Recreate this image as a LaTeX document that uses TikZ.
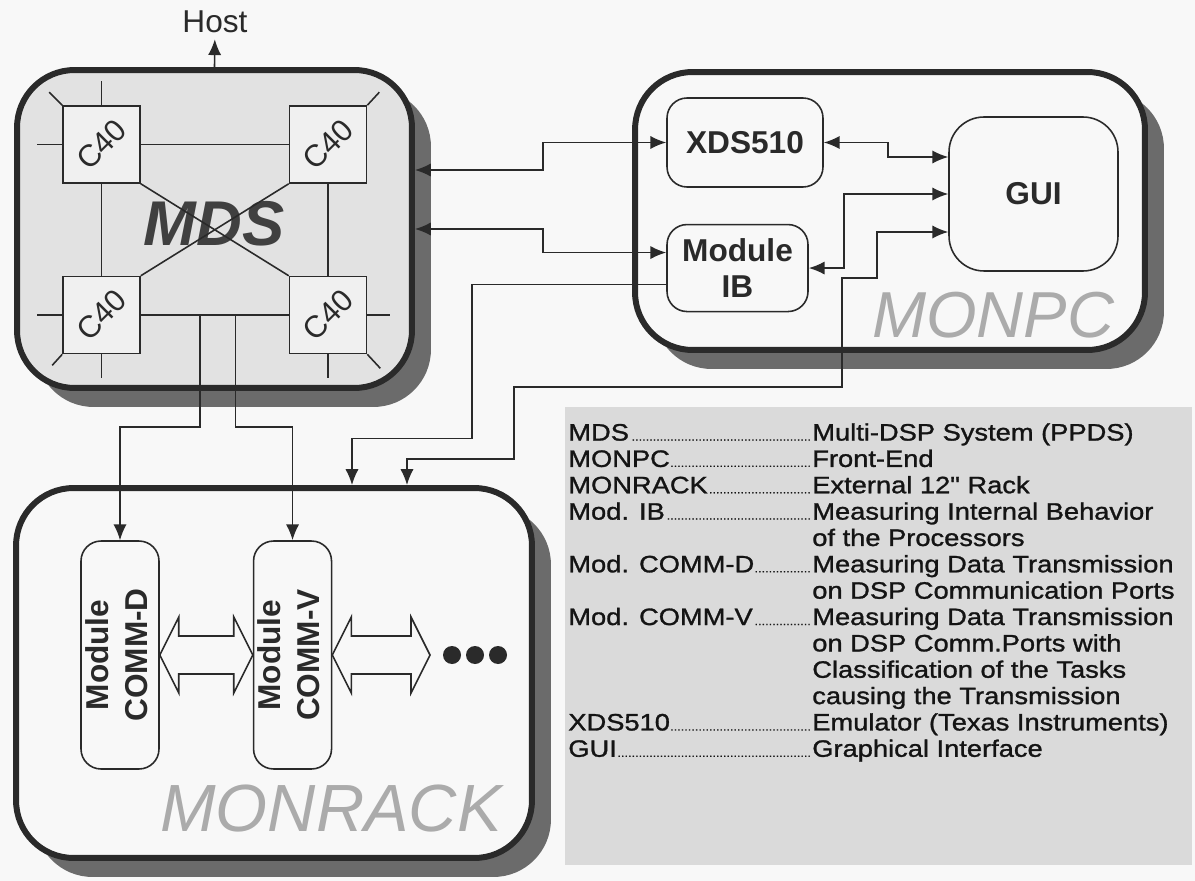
\documentclass[tikz,border=0pt]{standalone}
\usepackage{fontspec}
\setmainfont{Liberation Sans}
\newfontfamily\legendfont[FakeStretch=1.15,FakeBold=1.2]{Liberation Sans}
\usepackage{tikz}
\usetikzlibrary{positioning,calc,shadows,arrows.meta}

\definecolor{pagebg}{HTML}{F8F8F8}
\definecolor{mdsfill}{HTML}{E2E2E2}
\definecolor{cpufill}{HTML}{F0F0F0}
\definecolor{legfill}{HTML}{DADADA}
\definecolor{shadowc}{HTML}{6B6B6B}
\definecolor{ink}{HTML}{2A2A2A}
\definecolor{ghost}{HTML}{ABABAB}

\newlength{\legw}
\setlength{\legw}{4.88cm}
\newcommand{\legrow}[2]{\hbox to \legw{#1\leaders\hbox to 2pt{\hss{\fontsize{6}{6}\selectfont.}\hss}\hfill}#2}
\newcommand{\legmore}[1]{\hbox to \legw{}#1}
\newcommand{\fatlink}[2]{%
  \draw[fatarrow] (#1) -- ($(#1)+(19,-38)$) -- ($(#1)+(19,-19)$) -- ($(#2)+(-19,-19)$)
    -- ($(#2)+(-19,-38)$) -- (#2) -- ($(#2)+(-19,38)$) -- ($(#2)+(-19,19)$)
    -- ($(#1)+(19,19)$) -- ($(#1)+(19,38)$) -- cycle;}

\begin{document}
\begin{tikzpicture}[
    x=0.02cm, y=-0.02cm,
    >={Latex[length=9pt,width=7.5pt]},
    link/.style={draw=ink, line width=0.9pt},
    bigbox/.style={draw=ink, line width=3.4pt, rounded corners=1.15cm, fill=pagebg,
      drop shadow={shadow xshift=0.38cm, shadow yshift=-0.38cm, fill=shadowc, opacity=1}},
    unit/.style={draw=ink, line width=0.9pt, rounded corners=0.4cm, fill=pagebg, text=ink,
      font=\fontsize{18}{21}\selectfont\bfseries, align=center, inner sep=0pt},
    cpu/.style={draw=ink, line width=0.9pt, fill=cpufill, minimum size=1.54cm, inner sep=0pt,
      text=ink, font=\fontsize{17.5}{20}\selectfont},
    ghostlabel/.style={text=ghost, font=\fontsize{37}{40}\selectfont\itshape, inner sep=0pt},
    fatarrow/.style={draw=ink, line width=0.9pt, fill=pagebg, line join=miter}
]
\useasboundingbox (0,0) rectangle (1195,881);
\fill[pagebg] (0,0) rectangle (1195,881);

% the three units
\node[bigbox, fill=mdsfill, minimum width=7.9cm, minimum height=6.36cm] (mds) at (214.5,229) {};
\node[bigbox, minimum width=10.2cm, minimum height=5.56cm] (monpc) at (890,211) {};
\node[bigbox, minimum width=10.32cm, minimum height=7.4cm] (monrack) at (274,673) {};
\node[fill=legfill, minimum width=12.54cm, minimum height=9.16cm, inner sep=0pt] (legbox) at (878.5,636) {};

\node[text=black!75, font=\fontsize{36}{40}\selectfont\bfseries\itshape, inner sep=0pt] (mdslabel) at (214,224) {MDS};
\node[ghostlabel] (monpclabel) at (993,315) {MONPC};
\node[ghostlabel, font=\fontsize{38}{40}\selectfont\itshape] (monracklabel) at (331,809) {MONRACK};
\node[text=ink, font=\fontsize{18}{21}\selectfont] (host) at (215,22) {Host};

% processors of the MDS
\node[cpu] (c40tl) at (101.5,144.5) {\rotatebox{45}{C40}};
\node[cpu, right=2.96cm of c40tl] (c40tr) {\rotatebox{45}{C40}};
\node[cpu, below=1.84cm of c40tl] (c40bl) {\rotatebox{45}{C40}};
\node[cpu, below=1.84cm of c40tr] (c40br) {\rotatebox{45}{C40}};

\draw[link] (c40tl) -- (c40tr);
\draw[link] (c40tl) -- (c40bl);
\draw[link] (c40tr) -- (c40br);
\draw[link] (c40bl) -- (c40br);
\draw[link] (c40tl.south east) -- (c40br.north west);
\draw[link] (c40tr.south west) -- (c40bl.north east);

\draw[link] (c40tl.north) -- ++(0,-24);
\draw[link] (c40tl.west) -- ++(-25,0);
\draw[link] (c40tl.north west) -- ++(-13,-13);
\draw[link] (c40tr.north east) -- ++(12,-13);
\draw[link] (c40bl.west) -- ++(-25,0);
\draw[link] (c40bl.south) -- ++(0,24);
\draw[link] (c40bl.south west) -- ++(-10,11);
\draw[link] (c40br.east) -- ++(23,0);
\draw[link] (c40br.south) -- ++(0,24);
\draw[link] (c40br.south east) -- ++(13,14);

\coordinate (tapd) at ($(c40bl.east)!0.4!(c40br.west)$);
\coordinate (tapv) at ($(c40bl.east)!0.64!(c40br.west)$);

% MONPC
\node[unit, minimum width=3.12cm, minimum height=1.78cm] (xds) at (745,142.5) {XDS510};
\node[unit, minimum width=2.82cm, minimum height=1.74cm, below=0.72cm of xds.south west, anchor=north west] (ib) {Module\\IB};
\node[unit, rounded corners=0.7cm, minimum width=3.38cm, minimum height=3.08cm] (gui) at (1033.5,194) {GUI};

% MONRACK
\node[unit, font=\fontsize{18}{22}\selectfont\bfseries, minimum width=1.56cm, minimum height=4.56cm] (commd) at (120,655)
  {\rotatebox{90}{\begin{tabular}{@{}c@{}}Module\\COMM-D\end{tabular}}};
\node[unit, font=\fontsize{18}{22}\selectfont\bfseries, minimum width=1.56cm, minimum height=4.56cm, right=1.86cm of commd] (commv)
  {\rotatebox{90}{\begin{tabular}{@{}c@{}}Module\\COMM-V\end{tabular}}};
\coordinate (more) at (430,655);

\fatlink{commd.east}{commv.west}
\fatlink{commv.east}{more}
\fill[ink] (452,655) circle (0.18cm);
\fill[ink] (475,655) circle (0.18cm);
\fill[ink] (498,655) circle (0.18cm);

% connections
\draw[link,->] (mds.north) -- (host);
\draw[link,<->] ([yshift=1.18cm]mds.east) -- ++(128,0) |- (xds.west);
\draw[link,<->] (mds.east) -- ++(128,0) |- ([yshift=0.31cm]ib.west);
\draw[link,->] ([yshift=-0.33cm]ib.west) -- ++(-194,0) -- ++(0,154) -| ([xshift=1.56cm]monrack.north);
\draw[link,<->] (xds.east) -- ++(64,0) |- ([yshift=0.74cm]gui.west);
\draw[link,<->] (ib.east) -- ++(35,0) |- (gui.west);
\draw[link,<->] ([yshift=-0.76cm]gui.west) -- ++(-71,0) -- ++(0,46) -- ++(-35,0) -- ++(0,109)
  -- ++(-328,0) -- ++(0,72) -| ([xshift=2.66cm]monrack.north);
\draw[link,->] (tapd) -- ++(0,112) -| (commd.north);
\draw[link,->] (tapv) -- ++(0,112) -| (commv.north);

% legend
\node[anchor=north west, inner sep=0pt, align=left, text=black!92,
      font=\legendfont\fontsize{13.5}{15}\selectfont] (legtext) at (568,423) {%
  \legrow{MDS}{Multi-DSP System (PPDS)}\\
  \legrow{MONPC}{Front-End}\\
  \legrow{MONRACK}{External 12" Rack}\\
  \legrow{Mod. IB}{Measuring Internal Behavior}\\
  \legmore{of the Processors}\\
  \legrow{Mod. COMM-D}{Measuring Data Transmission}\\
  \legmore{on DSP Communication Ports}\\
  \legrow{Mod. COMM-V}{Measuring Data Transmission}\\
  \legmore{on DSP Comm.Ports with}\\
  \legmore{Classification of the Tasks}\\
  \legmore{causing the Transmission}\\
  \legrow{XDS510}{Emulator (Texas Instruments)}\\
  \legrow{GUI}{Graphical Interface}};
\end{tikzpicture}
\end{document}
